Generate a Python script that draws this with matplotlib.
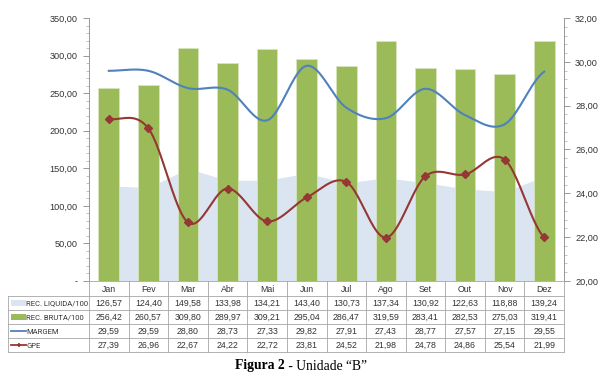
import numpy as np
import matplotlib
matplotlib.use('Agg')
import matplotlib.pyplot as plt
from matplotlib.ticker import FixedLocator, FuncFormatter

months = ['Jan', 'Fev', 'Mar', 'Abr', 'Mai', 'Jun', 'Jul', 'Ago', 'Set', 'Out', 'Nov', 'Dez']
rec_liquida = [126.57, 124.40, 149.58, 133.98, 134.21, 143.40, 130.73, 137.34, 130.92, 122.63, 118.88, 139.24]
rec_bruta = [256.42, 260.57, 309.80, 289.97, 309.21, 295.04, 286.47, 319.59, 283.41, 282.53, 275.03, 319.41]
margem = [29.59, 29.59, 28.80, 28.73, 27.33, 29.82, 27.91, 27.43, 28.77, 27.57, 27.15, 29.55]
gpe = [27.39, 26.96, 22.67, 24.22, 22.72, 23.81, 24.52, 21.98, 24.78, 24.86, 25.54, 21.99]
series_names = ['REC. LIQUIDA/100', 'REC. BRUTA/100', 'MARGEM', 'GPE']

C_AREA = '#dbe5f1'
C_BAR = '#9bbb59'
C_MARG = '#4f81bd'
C_GPE = '#953735'
C_TXT = '#333333'
C_GRID = '#a6a6a6'

plt.rcParams['font.family'] = ['Liberation Sans', 'DejaVu Sans']


def smooth(x, y, n=24):
    # catmull-rom like Excel's "smoothed line"
    x = np.asarray(x, float)
    y = np.asarray(y, float)
    px = np.concatenate([[2 * x[0] - x[1]], x, [2 * x[-1] - x[-2]]])
    py = np.concatenate([[y[0]], y, [y[-1]]])
    xs, ys = [], []
    t = np.linspace(0, 1, n)
    for i in range(1, len(px) - 2):
        p0, p1, p2, p3 = py[i - 1], py[i], py[i + 1], py[i + 2]
        q0, q1, q2, q3 = px[i - 1], px[i], px[i + 1], px[i + 2]
        def cr(a0, a1, a2, a3):
            return 0.5 * ((2 * a1) + (-a0 + a2) * t + (2 * a0 - 5 * a1 + 4 * a2 - a3) * t ** 2
                          + (-a0 + 3 * a1 - 3 * a2 + a3) * t ** 3)
        xs.append(cr(q0, q1, q2, q3))
        ys.append(cr(p0, p1, p2, p3))
    return np.concatenate(xs), np.concatenate(ys)


W, H = 603, 381
fig = plt.figure(figsize=(W / 100, H / 100), dpi=100)

L, R, T, B = 89, 564, 18, 281
ax = fig.add_axes([L / W, 1 - B / H, (R - L) / W, (B - T) / H])
x = np.arange(len(months))

ax.fill_between(x, rec_liquida, color=C_AREA, zorder=1, linewidth=0)
ax.bar(x, rec_bruta, width=0.52, color=C_BAR, edgecolor='#d7e4bd', linewidth=0.6, zorder=2)
ax.set_xlim(-0.5, len(months) - 0.5)
ax.set_ylim(0, 350)
ax.set_xticks([])

ax.yaxis.set_major_locator(FixedLocator(np.arange(0, 351, 50)))
ax.yaxis.set_minor_locator(FixedLocator(np.arange(0, 351, 10)))
ax.yaxis.set_major_formatter(FuncFormatter(
    lambda v, p: '-' if v == 0 else f'{v:.2f}'.replace('.', ',')))
ax.tick_params(axis='y', which='major', length=4, width=0.6, color='#888888',
               labelsize=6.6, labelcolor=C_TXT, pad=4)
ax.tick_params(axis='y', which='minor', length=2, width=0.5, color='#aaaaaa')
for s in ['top', 'right', 'bottom']:
    ax.spines[s].set_visible(False)
ax.spines['left'].set_color('#888888')
ax.spines['left'].set_linewidth(0.6)

ax2 = ax.twinx()
ax2.set_ylim(20, 32)
mx, my = smooth(x, margem)
ax2.plot(mx, my, color=C_MARG, lw=1.5, zorder=3)
gx, gy = smooth(x, gpe)
ax2.plot(gx, gy, color=C_GPE, lw=1.5, zorder=4)
ax2.plot(x, gpe, linestyle='none', marker='D', ms=4.5, color=C_GPE, zorder=5)
ax2.yaxis.set_major_locator(FixedLocator(np.arange(20, 33, 2)))
ax2.yaxis.set_minor_locator(FixedLocator(np.arange(20, 32.1, 0.4)))
ax2.yaxis.set_major_formatter(FuncFormatter(lambda v, p: f'{v:.2f}'.replace('.', ',')))
ax2.tick_params(axis='y', which='major', length=4, width=0.6, color='#888888',
                labelsize=6.6, labelcolor=C_TXT, pad=4)
ax2.tick_params(axis='y', which='minor', length=2, width=0.5, color='#aaaaaa')
for s in ['top', 'left', 'bottom']:
    ax2.spines[s].set_visible(False)
ax2.spines['right'].set_color('#888888')
ax2.spines['right'].set_linewidth(0.6)

# data table below the plot, drawn in pixel coords
tb = fig.add_axes([0, 0, 1, 1])
tb.set_xlim(0, W)
tb.set_ylim(H, 0)
tb.axis('off')

tl = 8
col_w = (R - L) / len(months)
rows_y = [281, 296, 310, 324, 338, 352]
lk = dict(color=C_GRID, lw=0.6)

tb.plot([L, R], [rows_y[0], rows_y[0]], **lk)
for yy in rows_y[1:]:
    tb.plot([tl, R], [yy, yy], **lk)
tb.plot([tl, tl], [rows_y[1], rows_y[-1]], **lk)
for i in range(len(months) + 1):
    xx = L + i * col_w
    tb.plot([xx, xx], [rows_y[0], rows_y[-1]], **lk)

for i, m in enumerate(months):
    cx = L + (i + 0.5) * col_w
    tb.text(cx, (rows_y[0] + rows_y[1]) / 2 + 0.5, m, ha='center', va='center',
            fontsize=6.3, color=C_TXT)

table_vals = [rec_liquida, rec_bruta, margem, gpe]
for r, vals in enumerate(table_vals):
    cy = (rows_y[r + 1] + rows_y[r + 2]) / 2 + 0.5
    for i, v in enumerate(vals):
        cx = L + (i + 0.5) * col_w
        tb.text(cx, cy, f'{v:.2f}'.replace('.', ','), ha='center', va='center',
                fontsize=6.3, color=C_TXT)
    tb.text(26.5, cy, series_names[r], ha='left', va='center', fontsize=5.5,
            color=C_TXT, family=['Roboto', 'DejaVu Sans'])

# legend keys
sy = [(rows_y[k] + rows_y[k + 1]) / 2 for k in range(1, 5)]
tb.add_patch(plt.Rectangle((11, sy[0] - 3), 15, 6, color=C_AREA, lw=0))
tb.add_patch(plt.Rectangle((11, sy[1] - 3), 15, 6, color=C_BAR, lw=0))
tb.plot([11, 26], [sy[2], sy[2]], color=C_MARG, lw=1.3)
tb.plot([11, 26], [sy[3], sy[3]], color=C_GPE, lw=1.3)
tb.plot([18.5], [sy[3]], marker='+', ms=3.5, mew=1.2, color=C_GPE)

fig.text(285 / W, 1 - 366 / H, 'Figura 2', ha='right', va='center',
         family=['Liberation Serif'], fontweight='bold', fontsize=9.8)
fig.text(285 / W, 1 - 366 / H, ' - Unidade \u201cB\u201d', ha='left', va='center',
         family=['Liberation Serif'], fontsize=9.8)

fig.savefig('out.png', dpi=100)
